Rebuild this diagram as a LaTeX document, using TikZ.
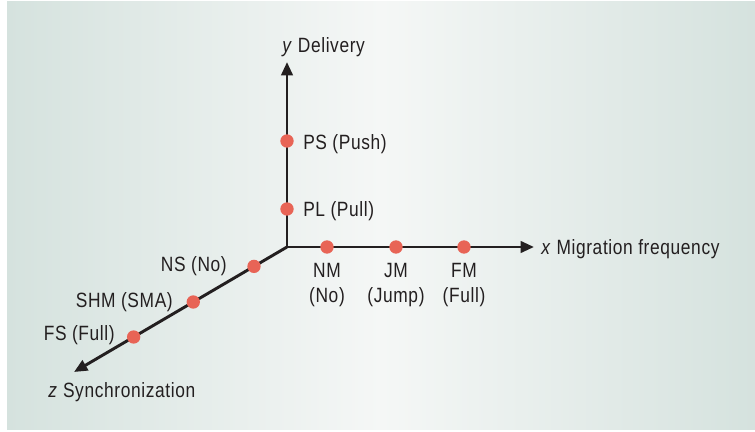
\documentclass[tikz,border=0pt]{standalone}
\usepackage{fontspec}
\setmainfont{Liberation Sans}[FakeStretch=0.84, LetterSpace=3]
\usetikzlibrary{arrows.meta,calc}
\definecolor{panelside}{RGB}{213,226,222}
\definecolor{panelmid}{RGB}{245,247,246}
\definecolor{inkdark}{RGB}{35,31,32}
\definecolor{dotred}{RGB}{232,100,86}
\tikzset{
  axisline/.style={draw=inkdark, line width=2.2pt, -{Triangle[length=10pt,width=8.5pt]}},
  valdot/.style={circle, fill=dotred, inner sep=0pt, minimum size=10pt},
  lbl/.style={inner sep=0pt, text=inkdark, font=\fontsize{15.5pt}{18.5pt}\selectfont},
}
\begin{document}
\begin{tikzpicture}[x=0.75pt, y=-0.75pt]
  \useasboundingbox (0,0) rectangle (755,431);
  % shaded panel
  \shade[left color=panelside, right color=panelside, middle color=panelmid]
    (7,2) rectangle (755,429);

  % axes
  \coordinate (o) at (287,247);
  \coordinate (ytip) at (287,62);
  \coordinate (xtip) at (534,247);
  \coordinate (ztip) at (74,372);
  \draw[axisline] (o) -- (ytip);
  \draw[axisline] (o) -- (xtip);
  \draw[axisline] (o) -- (ztip);

  % values on the axes
  \node[valdot] (ps) at (287,141) {};
  \node[valdot] (pl) at (287,209) {};
  \node[valdot] (nm) at (327,247) {};
  \node[valdot] (jm) at (396,247) {};
  \node[valdot] (fm) at (464,247) {};
  \node[valdot] (ns) at ($(o)!0.155!(ztip)$) {};
  \node[valdot] (shm) at ($(o)!0.44!(ztip)$) {};
  \node[valdot] (fs) at ($(o)!0.72!(ztip)$) {};

  % axis titles
  \node[lbl, anchor=base west] (ylab) at (282,53) {\textit{y} Delivery};
  \node[lbl, anchor=base west] (xlab) at (541,254) {\textit{x} Migration frequency};
  \node[lbl, anchor=base west] (zlab) at (48,397) {\textit{z} Synchronization};

  % value labels
  \node[lbl, anchor=base west] (pslab) at (303,149) {PS (Push)};
  \node[lbl, anchor=base west] (pllab) at (303,216) {PL (Pull)};
  \node[lbl, anchor=base east] (nslab) at (227,271) {NS (No)};
  \node[lbl, anchor=base east] (shmlab) at (173,307) {SHM (SMA)};
  \node[lbl, anchor=base east] (fslab) at (115,340) {FS (Full)};
  \node[lbl, anchor=north, align=center] (nmlab) at (327,263) {NM\\(No)};
  \node[lbl, anchor=north, align=center] (jmlab) at (396,263) {JM\\(Jump)};
  \node[lbl, anchor=north, align=center] (fmlab) at (464,263) {FM\\(Full)};
\end{tikzpicture}
\end{document}
